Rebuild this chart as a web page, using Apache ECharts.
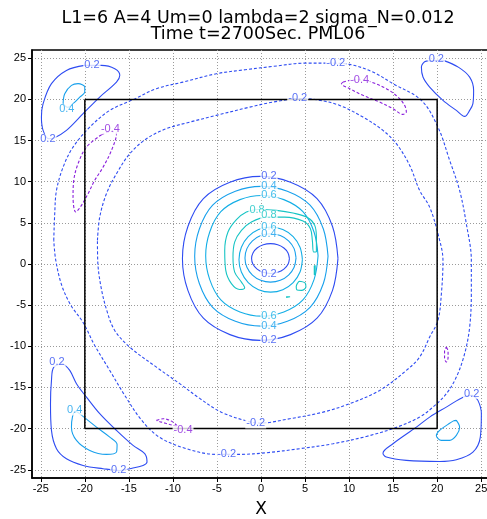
<!DOCTYPE html>
<html><head><meta charset="utf-8">
<script src="https://cdn.jsdelivr.net/npm/echarts@6/dist/echarts.min.js"></script>
<style>html,body{margin:0;padding:0;background:#fff}#c{width:487px;height:519px}</style>
</head><body><div id="c"></div>
<script>
// ---------- text / ticks ----------
const titleLines = ['L1=6 A=4 Um=0 lambda=2 sigma_N=0.012', 'Time t=2700Sec. PML06'];
const xName = 'X';
const xTicks = [-25, -20, -15, -10, -5, 0, 5, 10, 15, 20, 25];
const yTicks = [-25, -20, -15, -10, -5, 0, 5, 10, 15, 20, 25];
const axisRange = [-26, 26];
// inner square (PML boundary)
const boxX = [-20, 20, 20, -20, -20];
const boxY = [20, 20, -20, -20, 20];

// ---------- contour lines (x, y) ----------
const c02_centerOuter = [[8.74,0.68],[8.12,4.56],[6.36,7.95],[3.35,9.94],[-0.09,10.64],[-3.53,9.94],[-6.54,7.95],[-8.3,4.56],[-8.92,0.68],[-8.3,-3.2],[-6.54,-6.59],[-3.53,-8.58],[-0.09,-9.28],[3.35,-8.58],[6.36,-6.59],[8.12,-3.2],[8.74,0.68]];
const c04_centerOuter = [[7.61,0.94],[7.08,4.25],[5.57,7.14],[2.99,8.84],[0.04,9.43],[-2.91,8.84],[-5.49,7.14],[-7.0,4.25],[-7.53,0.94],[-7.0,-2.37],[-5.49,-5.26],[-2.91,-6.96],[0.04,-7.55],[2.99,-6.96],[5.57,-5.26],[7.08,-2.37],[7.61,0.94]];
const c06_centerOuter = [[6.48,1.0],[6.03,3.86],[4.76,6.35],[2.59,7.82],[0.1,8.33],[-2.39,7.82],[-4.56,6.35],[-5.83,3.86],[-6.28,1.0],[-5.83,-1.86],[-4.56,-4.35],[-2.39,-5.82],[0.1,-6.33],[2.59,-5.82],[4.76,-4.35],[6.03,-1.86],[6.48,1.0]];
const c08_band = [[6.29,1.45],[6.29,3.27],[6.1,4.69],[5.33,5.63],[3.63,6.19],[1.75,6.51],[-0.34,6.63],[-1.66,6.31],[-2.79,5.38],[-3.75,3.88],[-4.12,1.65],[-4.0,-0.78],[-3.36,-2.39],[-2.42,-3.09],[-1.85,-2.88],[-2.22,-2.2],[-2.99,-0.98],[-3.18,0.84],[-2.99,2.66],[-2.22,4.08],[-1.09,5.09],[0.61,5.7],[2.69,5.7],[4.77,5.21],[5.61,4.29],[5.83,2.87],[5.98,1.45],[6.29,1.45]];
const c08_blob = [[4.3,-2.1],[5.0,-2.3],[5.1,-2.8],[4.6,-3.2],[4.1,-3.15],[4.0,-2.7],[4.3,-2.1]];
const c08_dashA = [[6.05,-0.2],[6.15,-0.2],[6.15,-1.3],[6.05,-1.3],[6.05,-0.2]];
const c08_dashB = [[2.85,-3.98],[3.3,-3.98],[3.3,-4.06],[2.85,-4.06],[2.85,-3.98]];
const c06_centerInner = [[4.7,0.53],[4.43,2.04],[3.65,3.32],[2.48,4.18],[1.1,4.48],[-0.28,4.18],[-1.45,3.32],[-2.23,2.04],[-2.5,0.53],[-2.23,-0.98],[-1.45,-2.26],[-0.28,-3.12],[1.1,-3.42],[2.48,-3.12],[3.65,-2.26],[4.43,-0.98],[4.7,0.53]];
const c04_centerInner = [[3.98,0.74],[3.76,1.87],[3.13,2.82],[2.19,3.46],[1.08,3.68],[-0.03,3.46],[-0.97,2.82],[-1.6,1.87],[-1.82,0.74],[-1.6,-0.39],[-0.97,-1.34],[-0.03,-1.98],[1.08,-2.2],[2.19,-1.98],[3.13,-1.34],[3.76,-0.39],[3.98,0.74]];
const c02_centerInner = [[3.23,0.66],[3.07,1.35],[2.6,1.94],[1.9,2.33],[1.08,2.47],[0.26,2.33],[-0.44,1.94],[-0.91,1.35],[-1.07,0.66],[-0.91,-0.03],[-0.44,-0.62],[0.26,-1.01],[1.08,-1.15],[1.9,-1.01],[2.6,-0.62],[3.07,-0.03],[3.23,0.66]];
const cm02_outer = [[-23.53,2.87],[-23.42,6.11],[-23.22,8.94],[-22.47,11.77],[-21.34,14.2],[-19.44,16.63],[-17.17,18.66],[-14.53,19.96],[-11.87,21.3],[-8.85,22.1],[-5.06,23.12],[-1.8,23.6],[1.36,24.01],[5.15,24.41],[7.8,24.41],[10.07,24.25],[12.71,23.32],[14.98,21.91],[18.21,19.88],[20.09,16.63],[21.42,12.59],[22.55,8.94],[23.31,4.9],[23.88,0.44],[23.88,-3.61],[23.69,-7.67],[23.12,-10.9],[22.18,-13.74],[21.04,-15.76],[19.52,-17.39],[18.01,-18.6],[15.37,-19.85],[11.96,-20.95],[8.17,-21.84],[4.39,-22.44],[0.61,-22.93],[-2.42,-23.13],[-5.06,-23.13],[-8.47,-22.44],[-11.5,-21.07],[-13.54,-19.0],[-15.47,-15.96],[-17.17,-12.93],[-18.88,-9.89],[-20.2,-7.1],[-21.6,-5.0],[-22.62,-2.6],[-23.3,0.44],[-23.53,2.87]];
const cm02_inner = [[-18.57,2.87],[-18.31,5.7],[-17.55,8.54],[-16.41,10.97],[-14.9,13.4],[-13.0,15.22],[-10.74,16.44],[-8.09,17.24],[-5.06,18.06],[-1.28,19.06],[1.36,19.67],[4.39,20.09],[6.29,19.96],[8.93,19.27],[11.58,17.85],[13.85,16.23],[15.37,14.62],[16.88,11.98],[18.01,8.94],[19.15,6.91],[20.09,3.68],[20.66,0.44],[20.48,-3.61],[20.09,-6.85],[19.15,-8.88],[18.01,-11.31],[16.5,-12.93],[13.47,-15.36],[10.07,-16.97],[7.04,-18.0],[3.26,-18.8],[-0.15,-19.33],[-1.28,-19.17],[-4.46,-18.03],[-6.96,-16.33],[-9.23,-14.54],[-11.87,-12.53],[-14.9,-10.1],[-16.61,-8.07],[-17.51,-5.64],[-18.2,-2.6],[-18.54,0.44],[-18.57,2.87]];
const cm04_topLeft = [[-18.12,15.71],[-19.82,14.2],[-20.77,12.19],[-21.26,10.16],[-21.34,8.13],[-21.03,6.31],[-20.39,7.12],[-19.64,8.54],[-18.88,10.16],[-17.93,11.77],[-16.98,13.8],[-16.41,15.83],[-17.0,16.1],[-18.12,15.71]];
const cm04_topRight = [[9.31,22.1],[10.07,22.31],[11.4,22.39],[12.53,22.1],[14.23,21.3],[15.55,20.28],[16.31,19.27],[16.5,18.46],[16.12,18.18],[14.98,18.87],[13.47,19.67],[11.58,20.49],[10.07,21.3],[9.13,21.91],[9.31,22.1]];
const cm04_bottom = [[-11.87,-19.0],[-11.12,-18.8],[-10.17,-19.09],[-9.45,-19.73],[-10.36,-19.49],[-11.3,-19.21],[-11.87,-19.0]];
const cm04_right = [[21.04,-10.1],[21.24,-10.6],[21.24,-11.4],[21.04,-11.92],[20.84,-11.4],[20.84,-10.6],[21.04,-10.1]];
const c02_topLeft = [[-20.01,24.13],[-22.09,23.52],[-23.79,21.91],[-24.74,19.48],[-24.93,17.85],[-24.74,16.23],[-24.1,15.22],[-23.42,15.35],[-22.09,16.23],[-20.2,18.26],[-18.31,20.28],[-16.41,22.1],[-16.03,22.92],[-16.6,23.73],[-18.12,24.13],[-20.01,24.13]];
const c04_topLeft = [[-22.47,19.48],[-22.28,20.69],[-21.52,21.7],[-20.77,21.91],[-20.01,21.5],[-20.01,20.89],[-20.58,20.28],[-21.34,19.48],[-21.94,19.03],[-22.47,19.48]];
const c02_topRight = [[20.7,24.74],[22.4,23.92],[23.69,22.71],[24.14,21.09],[24.06,19.48],[23.69,18.66],[23.12,17.93],[22.18,18.66],[20.66,19.88],[19.15,21.49],[18.39,22.71],[18.21,23.92],[18.77,24.65],[20.7,24.74]];
const c02_bottomLeft = [[-22.47,-12.11],[-21.71,-12.93],[-20.95,-14.54],[-19.82,-16.17],[-18.31,-18.19],[-16.41,-20.22],[-14.53,-22.04],[-13.2,-23.05],[-12.94,-24.07],[-13.39,-24.47],[-14.9,-24.87],[-16.03,-25.08],[-17.93,-24.87],[-20.2,-24.47],[-22.09,-23.66],[-23.22,-22.44],[-23.79,-20.22],[-23.9,-16.97],[-23.79,-14.14],[-23.53,-12.53],[-22.47,-12.11]];
const c04_bottomLeft = [[-20.2,-18.52],[-18.68,-19.82],[-17.17,-21.03],[-16.34,-21.92],[-16.41,-22.86],[-17.55,-23.13],[-19.44,-22.65],[-20.95,-21.43],[-21.52,-19.82],[-21.41,-18.6],[-21.1,-17.9],[-20.2,-18.52]];
const c02_bottomRight = [[24.03,-15.96],[23.12,-16.09],[21.04,-17.39],[19.15,-18.6],[17.64,-19.82],[14.98,-21.84],[13.85,-22.98],[14.23,-23.46],[16.5,-23.86],[20.28,-23.99],[22.18,-23.78],[24.06,-22.86],[24.9,-21.03],[25.02,-18.19],[24.63,-16.57],[24.03,-15.96]];
const c04_bottomRight = [[22.18,-19.0],[22.55,-19.82],[22.18,-20.83],[21.42,-21.43],[20.48,-21.43],[19.91,-20.83],[20.28,-20.22],[21.23,-19.49],[21.8,-19.09],[22.18,-19.0]];

// contour level of each line
const contourLines = [
  [0.2, c02_centerOuter], [0.4, c04_centerOuter], [0.6, c06_centerOuter], [0.8, c08_band],
  [0.8, c08_blob], [0.8, c08_dashA], [0.8, c08_dashB],
  [0.6, c06_centerInner], [0.4, c04_centerInner], [0.2, c02_centerInner],
  [-0.2, cm02_outer], [-0.2, cm02_inner],
  [-0.4, cm04_topLeft], [-0.4, cm04_topRight], [-0.4, cm04_bottom], [-0.4, cm04_right],
  [0.2, c02_topLeft], [0.4, c04_topLeft], [0.2, c02_topRight],
  [0.2, c02_bottomLeft], [0.4, c04_bottomLeft], [0.2, c02_bottomRight], [0.4, c04_bottomRight]
];

// contour labels: x, y, text, level
const contourLabels = [
  [-19.2, 24.13, '0.2', 0.2], [-24.2, 15.2, '0.2', 0.2], [-22.05, 18.87, '0.4', 0.4], [-17.1, 16.35, '-0.4', -0.4],
  [8.48, 24.37, '-0.2', -0.2], [4.17, 20.12, '-0.2', -0.2], [11.2, 22.39, '-0.4', -0.4], [19.9, 24.86, '0.2', 0.2],
  [0.91, 10.64, '0.2', 0.2], [0.91, 9.43, '0.4', 0.4], [0.91, 8.33, '0.6', 0.6], [-0.45, 6.51, '0.8', 0.8],
  [0.91, 5.91, '0.8', 0.8], [0.91, 4.48, '0.6', 0.6], [0.91, 3.68, '0.4', 0.4], [0.91, -1.18, '0.2', 0.2],
  [0.91, -6.33, '0.6', 0.6], [0.91, -7.55, '0.4', 0.4], [0.91, -9.28, '0.2', 0.2],
  [-23.16, -11.92, '0.2', 0.2], [-21.15, -17.79, '0.4', 0.4], [-16.15, -25.08, '0.2', 0.2], [-8.85, -20.2, '-0.4', -0.4],
  [-3.9, -23.13, '-0.2', -0.2], [-0.6, -19.37, '-0.2', -0.2], [23.92, -15.78, '0.2', 0.2]
];

// ---------- styles ----------
const levelColor = {'-0.4': '#8a20dc', '-0.2': '#2e4cf2', '0.2': '#2e4cf2', '0.4': '#18a0ec', '0.6': '#14aee6', '0.8': '#16c4c4'};
const tickFont = 'Liberation Sans';

const series = [];
contourLines.forEach(function (c) {
  series.push({
    type: 'line', data: c[1], showSymbol: false, symbol: 'none', smooth: 0.35, silent: true, z: 3,
    lineStyle: {color: levelColor[String(c[0])], width: 1.1, type: c[0] < 0 ? [3, 2] : 'solid'},
    animation: false
  });
});
series.push({
  type: 'line', data: boxX.map(function (x, i) { return [x, boxY[i]]; }), showSymbol: false, symbol: 'none',
  silent: true, z: 4, lineStyle: {color: '#000', width: 1.5}, animation: false
});
series.push({
  type: 'scatter', symbolSize: 1, silent: true, z: 6, animation: false,
  itemStyle: {color: 'rgba(0,0,0,0)'},
  data: contourLabels.map(function (l) {
    return {value: [l[0], l[1], l[2]], label: {color: levelColor[String(l[3])]}};
  }),
  label: {
    show: true, position: 'inside', formatter: function (p) { return p.data.value[2]; },
    fontSize: 11, fontFamily: tickFont, backgroundColor: '#fff', padding: [0, 1], lineHeight: 10
  }
});

function axisCfg(ticks, isX) {
  return {
    type: 'value', min: axisRange[0], max: axisRange[1],
    axisLine: {show: true, onZero: false, lineStyle: {color: '#000', width: 1.5}},
    axisTick: {show: true, customValues: ticks, length: 4, lineStyle: {color: '#000', width: 1}},
    axisLabel: {customValues: ticks, color: '#000', fontSize: 11, fontFamily: tickFont, margin: isX ? 5 : 6},
    splitLine: {show: true, lineStyle: {color: '#9a9a9a', type: [1, 2], width: 1}}
  };
}

const chart = echarts.init(document.getElementById('c'), null, {renderer: 'canvas'});
const xa = axisCfg(xTicks, true);
xa.name = xName; xa.nameLocation = 'middle'; xa.nameGap = 23;
xa.nameTextStyle = {fontSize: 17, color: '#000', fontFamily: 'DejaVu Sans'};
const titleStyle = {fontSize: 17.5, fontWeight: 'normal', fontFamily: 'DejaVu Sans', color: '#000'};
chart.setOption({
  animation: false,
  backgroundColor: '#fff',
  title: [
    {text: titleLines[0], left: 258, top: 9, textAlign: 'center', padding: 0, textStyle: titleStyle},
    {text: titleLines[1], left: 258, top: 25, textAlign: 'center', padding: 0, textStyle: titleStyle}
  ],
  grid: {left: 32, top: 50, width: 458, height: 428, show: true, borderColor: '#000', borderWidth: 1.5,
         containLabel: false, outerBoundsMode: 'none'},
  xAxis: xa,
  yAxis: axisCfg(yTicks, false),
  series: series
});
</script></body></html>
